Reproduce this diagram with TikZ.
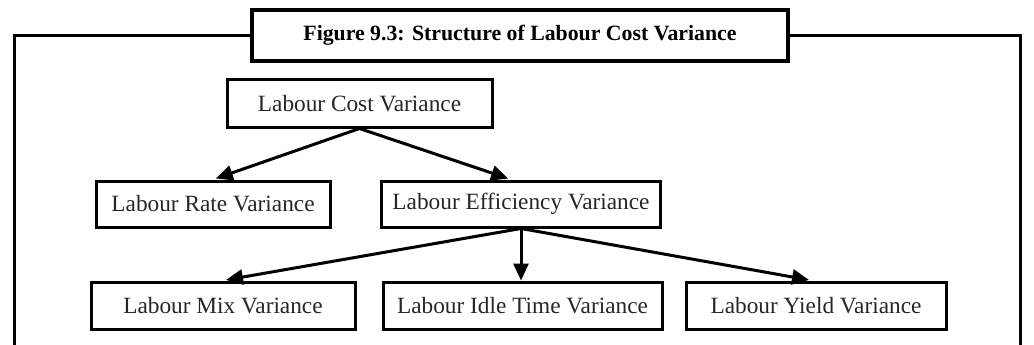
\documentclass[tikz,border=0pt]{standalone}
\usepackage{fontspec}
\setmainfont{Liberation Serif}
\usetikzlibrary{arrows.meta}
\tikzset{
  box/.style={draw=black, line width=3pt, inner sep=0pt, font=\fontsize{23.3}{26}\selectfont, text=black!85},
  titlebox/.style={draw=black, line width=3.2pt, inner sep=0pt, fill=white, font=\fontsize{21.8}{24}\selectfont\bfseries},
  arr/.style={line width=3pt, -{Triangle[length=17pt,width=15pt]}, shorten >=3pt},
  frame/.style={line width=3pt}
}
\begin{document}
\begin{tikzpicture}[x=1pt,y=-1pt]
\useasboundingbox (0,0) rectangle (1034,345);
% title
\node[titlebox, minimum width=536pt, minimum height=51pt] (title) at (520,35.5) {Figure 9.3: Structure of Labour Cost Variance};
% frame
\coordinate (fl) at (14,345);
\coordinate (fr) at (1020.7,345);
\draw[frame] (fl) |- (title.west);
\draw[frame] (title.east) -| (fr);
% nodes
\node[box, minimum width=265pt, minimum height=47pt] (lcv) at (359.5,103.5) {Labour Cost Variance};
\node[box, minimum width=234pt, minimum height=46pt] (lrv) at (213,204) {Labour Rate Variance};
\node[box, minimum width=279pt, minimum height=46pt] (lev) at (521,204) {Labour Efficiency Variance};
\node[box, minimum width=264pt, minimum height=47pt] (lmv) at (223,305.5) {Labour Mix Variance};
\node[box, minimum width=279pt, minimum height=47pt] (litv) at (522.5,305.5) {Labour Idle Time Variance};
\node[box, minimum width=260pt, minimum height=47pt] (lyv) at (816,305.5) {Labour Yield Variance};
% arrows
\draw[arr] (lcv.south) -- (lrv.north);
\draw[arr] (lcv.south) -- ([xshift=-10pt]lev.north);
\draw[arr] (lev.south) -- (lmv.north);
\draw[arr, shorten >=0pt] (lev.south) -- (lev.south |- litv.north);
\draw[arr] (lev.south) -- ([xshift=-4pt]lyv.north);
\end{tikzpicture}
\end{document}
